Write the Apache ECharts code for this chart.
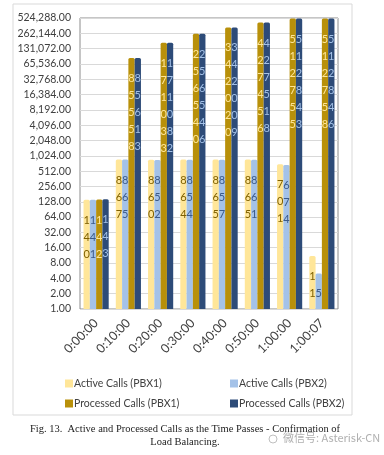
<!DOCTYPE html>
<html>
<head>
<meta charset="utf-8">
<script src="https://cdn.jsdelivr.net/npm/echarts@6/dist/echarts.min.js"></script>
<style>
html,body{margin:0;padding:0;background:#fff;}
#c{width:384px;height:455px;}
</style>
</head>
<body>
<div id="c"></div>
<script>
var categories = ['0:00:00','0:10:00','0:20:00','0:30:00','0:40:00','0:50:00','1:00:00','1:00:07'];
var activePBX1 = [140, 867, 860, 864, 865, 865, 701, 11];
var activePBX2 = [141, 865, 852, 854, 857, 861, 674, 5];
var processedPBX1 = [142, 85558, 171033, 256540, 342020, 427456, 512755, 512758];
var processedPBX2 = [143, 85613, 171082, 256546, 342009, 427518, 512843, 512846];
var seriesNames = ['Active Calls (PBX1)','Active Calls (PBX2)','Processed Calls (PBX1)','Processed Calls (PBX2)'];
var yMin = 1, yMax = 524288;

var font = 'Lato, "Open Sans", sans-serif';
var chart = echarts.init(document.getElementById('c'));

function vertLabel(p){ return String(p.value).split('').join('\n'); }
function mk(name, data, color, labelColor){
  return {
    name: name, type: 'bar', data: data, barGap: '0%', barCategoryGap: '22%',
    itemStyle: { color: color, borderRadius: [1.5,1.5,0,0] },
    label: { show: true, position: 'insideTop', distance: 12, formatter: vertLabel,
      color: labelColor, fontSize: 11, lineHeight: 17, fontFamily: font },
    emphasis: { disabled: true }
  };
}

chart.setOption({
  animation: false,
  backgroundColor: '#fff',
  graphic: [
    { type: 'rect', z: -10, shape: { x: 13, y: 4, width: 339, height: 411 },
      style: { fill: '#fff', stroke: '#d9d9d9', lineWidth: 1 } },
    { type: 'text', left: 283, top: 432, style: { text: '微信号: Asterisk-CN', fill: '#b0b0b0',
      font: '11px "Noto Sans CJK SC", sans-serif' } },
    { type: 'circle', shape: { cx: 273, cy: 439, r: 4 }, style: { fill: 'none', stroke: '#c0c0c0', lineWidth: 1 } }
  ],
  title: [{
    text: 'Fig. 13.  Active and Processed Calls as the Time Passes - Confirmation of\nLoad Balancing.',
    left: 180, top: 418, textAlign: 'center',
    textStyle: { fontFamily: '"Liberation Serif", serif', fontSize: 10.5, fontWeight: 'normal', color: '#222', lineHeight: 13 }
  }],
  legend: [
    { data: [seriesNames[0], seriesNames[2]], orient: 'vertical', left: 60, top: 373, itemWidth: 8, itemHeight: 8,
      itemGap: 9, icon: 'rect', textStyle: { fontSize: 10.5, color: '#404040', fontFamily: font, padding: [0,0,0,-4] } },
    { data: [seriesNames[1], seriesNames[3]], orient: 'vertical', left: 225, top: 373, itemWidth: 8, itemHeight: 8,
      itemGap: 9, icon: 'rect', textStyle: { fontSize: 10.5, color: '#404040', fontFamily: font, padding: [0,0,0,-4] } }
  ],
  grid: { left: 80, right: 46, top: 18, bottom: 146, show: true, borderColor: '#8c8c8c', borderWidth: 1 },
  xAxis: {
    type: 'category', data: categories,
    axisLine: { show: false }, axisTick: { show: false },
    axisLabel: { rotate: 45, fontSize: 12.5, color: '#404040', fontFamily: font, margin: 12, interval: 0 }
  },
  yAxis: {
    type: 'log', logBase: 2, min: yMin, max: yMax, interval: 1,
    axisLine: { show: false }, axisTick: { show: false },
    splitLine: { lineStyle: { color: '#d9d9d9' } },
    axisLabel: { fontSize: 10.5, color: '#404040', fontFamily: font, margin: 9,
      formatter: function(v){ return Math.round(v).toLocaleString('en-US', {minimumFractionDigits:2, maximumFractionDigits:2}); } }
  },
  series: [
    mk(seriesNames[0], activePBX1, '#FFE699', '#7F6000'),
    mk(seriesNames[1], activePBX2, '#A4C2E8', '#3B5A8A'),
    mk(seriesNames[2], processedPBX1, '#B8900A', '#FFE699'),
    mk(seriesNames[3], processedPBX2, '#2D4B78', '#A4C2E8')
  ]
});
</script>
</body>
</html>
